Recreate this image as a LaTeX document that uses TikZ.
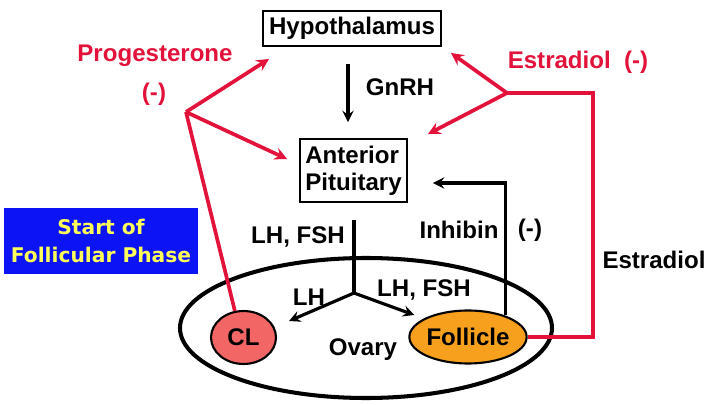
\documentclass[tikz,border=0pt]{standalone}
\usepackage{fontspec}
\setmainfont{Liberation Sans}
\newfontfamily\boxfont{DejaVu Sans}
\usetikzlibrary{positioning, shapes.geometric}
\definecolor{hormred}{RGB}{226,18,58}
\definecolor{clred}{RGB}{243,102,102}
\definecolor{folorange}{RGB}{246,160,30}
\definecolor{phaseblue}{RGB}{12,20,245}
\definecolor{phaseyellow}{RGB}{255,255,90}

\begin{document}
\begin{tikzpicture}[>=stealth, x=0.02cm, y=-0.02cm,
  every node/.style={font=\fontsize{13.7}{15.5}\selectfont\bfseries},
  organ/.style={draw, line width=1.1pt, inner sep=2pt},
  redarrow/.style={->, hormred, line width=2.1pt},
  blackarrow/.style={->, line width=1.8pt},
  gland/.style={ellipse, draw, line width=1.2pt, inner sep=0pt}]
\useasboundingbox (0,0) rectangle (720,405);
% glands and organs
\node[organ, minimum width=3.56cm, minimum height=0.7cm] (hyp) at (352,28.5) {Hypothalamus};
\node[organ, align=left, minimum width=2.14cm, minimum height=1.26cm] (ap) at (353.5,170.5) {Anterior\\Pituitary};
\draw[line width=2.3pt] (366,328) ellipse [x radius=186, y radius=70];
\node[gland, fill=clred, minimum width=1.3cm, minimum height=1.06cm] (cl) at (243.5,337.5) {CL};
\node[gland, fill=folorange, minimum width=2.14cm, minimum height=1.06cm] (fol) at (468,337) {Follicle};
\node[fill=phaseblue, text=phaseyellow, align=center, minimum width=3.88cm, minimum height=1.32cm,
  font=\boxfont\fontsize{11.5}{15.5}\selectfont\bfseries] (phase) at (101,241) {Start of\\Follicular Phase};
% junctions
\coordinate (pj) at (186,112);
\coordinate (ej) at (507,93);
\coordinate (ecorner) at (593,93);
\coordinate (stem) at (354,220);
\coordinate (br) at (354,293);
% GnRH
\draw[blackarrow] ([shift={(-4,17)}]hyp.south) -- ([shift={(-5.5,-16)}]ap.north);
\node (gnrh) at (400,87) {GnRH};
% progesterone feedback
\draw[hormred, line width=2.1pt] (cl.108) -- (pj);
\draw[redarrow] (pj) -- ([shift={(7,12)}]hyp.south west);
\draw[redarrow] (pj) -- ([shift={(-12,-11.5)}]ap.west);
\node[text=hormred] (prog) at (155,56) {Progesterone};
\node[text=hormred] (progneg) at (154,94) {(-)};
% estradiol feedback
\draw[hormred, line width=2.1pt] (fol.east) -| (ecorner) -- (ej);
\draw[redarrow] (ej) -- ([shift={(9,6)}]hyp.south east);
\draw[redarrow] (ej) -- ([shift={(20,-4)}]ap.north east);
\node[text=hormred] (estneg) at (578,62) {Estradiol\ \ (-)};
\node (est) at (654,260) {Estradiol};
% inhibin
\draw[blackarrow] (fol.30) |- ([shift={(25,12.5)}]ap.east);
\node (inh) at (459,230) {Inhibin};
\node (inhneg) at (530,230) {(-)};
% LH, FSH
\draw[line width=1.8pt] (stem) -- (br);
\draw[blackarrow] (br) -- ([shift={(12,-16.5)}]cl.east);
\draw[blackarrow] (br) -- ([shift={(6,-22)}]fol.west);
\node (lhfsh) at (298,237) {LH, FSH};
\node (lh) at (309,297) {LH};
\node (lhfsh2) at (424,290) {LH, FSH};
\node (ovary) at (363,350) {Ovary};
\end{tikzpicture}
\end{document}
